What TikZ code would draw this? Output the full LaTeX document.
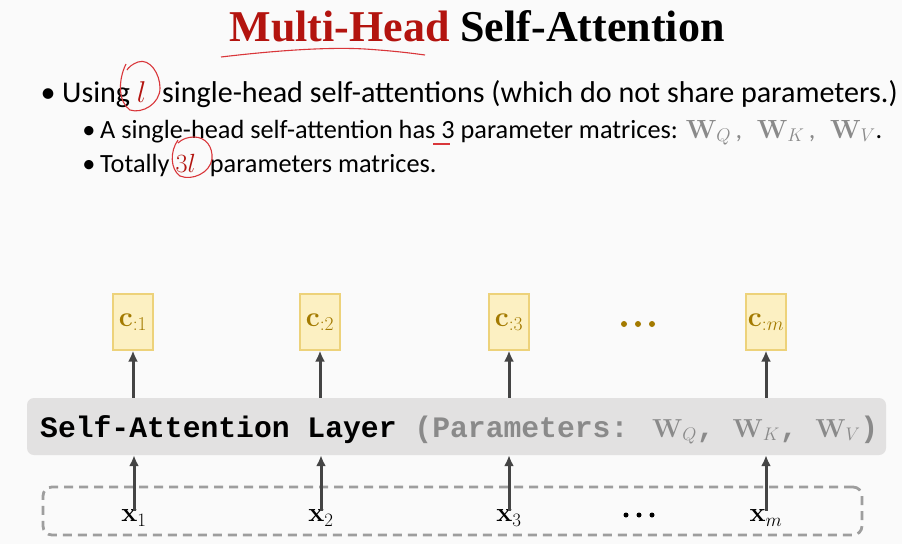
\RequirePackage{fix-cm}
\documentclass[tikz,border=0pt]{standalone}
\usepackage[no-math]{fontspec}
\setmainfont{Carlito}
\newfontfamily\titlefont{Liberation Serif}
\newfontfamily\monofont{Liberation Mono}
\usetikzlibrary{arrows.meta}
\definecolor{titlered}{HTML}{B3140F}
\definecolor{penred}{HTML}{D9363A}
\definecolor{wgray}{HTML}{8A8A8A}
\definecolor{cfill}{HTML}{FCF0C2}
\definecolor{cdraw}{HTML}{EDD27A}
\definecolor{ctext}{HTML}{A37A00}
\definecolor{layerfill}{HTML}{E2E1E1}
\definecolor{arrgray}{HTML}{444444}
\definecolor{dashgray}{HTML}{9E9E9E}
\definecolor{bg}{HTML}{FAFAFA}
\newcommand{\wmath}[1]{{\fontsize{26}{28}\selectfont$\mathbf{W}_{#1}$}}
\tikzset{
  cbox/.style={draw=cdraw, fill=cfill, line width=1.2pt, minimum width=40pt, minimum height=56pt, inner sep=0pt, text=ctext, font=\fontsize{28}{30}\selectfont},
  layerbox/.style={fill=layerfill, rounded corners=7pt, minimum width=859pt, minimum height=57pt, inner sep=0pt},
  inbox/.style={draw=dashgray, dash pattern=on 9pt off 6pt, line width=2.8pt, rounded corners=9pt, minimum width=819pt, minimum height=48pt, inner sep=0pt},
  xlab/.style={font=\fontsize{27}{30}\selectfont, inner sep=1pt},
  arr/.style={draw=arrgray, line width=3pt, -{Latex[length=11pt,width=10pt]}},
  pen/.style={draw=penred, line width=1.1pt},
  bul/.style={anchor=base, inner sep=0pt},
  line1/.style={anchor=base west, inner sep=0pt, font=\fontsize{30.1}{34}\selectfont},
  line2/.style={anchor=base west, inner sep=0pt, font=\fontsize{26.3}{30}\selectfont},
  dotc/.style={circle, inner sep=0pt, minimum size=#1},
}
\begin{document}
\begin{tikzpicture}[x=1pt,y=-1pt]
\fill[bg] (0,0) rectangle (902,544);
\useasboundingbox (0,0) rectangle (902,544);

% title
\node[inner sep=0pt] (title) at (477,26) {\titlefont\bfseries\fontsize{44}{48}\selectfont\textcolor{titlered}{Multi-Head} Self-Attention};
\draw[pen] (221,57) .. controls (280,50) and (330,47) .. (365,49) .. controls (395,51) and (410,53) .. (425,55);

% bullets
\node[bul, font=\fontsize{30.1}{34}\selectfont] (bu1) at (48,102) {\textbullet};
\node[line1] (t1) at (62,102) {Using \textcolor{titlered}{$l$}\hspace{9pt} single-head self-attentions (which do not share parameters.)};
\draw[pen] (126,64) .. controls (118,80) and (118,102) .. (130,110) .. controls (142,114) and (160,104) .. (160,88) .. controls (160,74) and (150,58) .. (138,62) .. controls (132,64) and (128,68) .. (127,70);

\node[bul, font=\fontsize{26.3}{30}\selectfont] (bu2) at (89,138) {\textbullet};
\node[line2] (t2) at (100,138) {A single-head self-attention has 3 parameter matrices: \textcolor{wgray}{$\mathbf{W}_Q$\,,\;\;$\mathbf{W}_K$\,,\;\;$\mathbf{W}_V$}.};
\draw[pen] (433,144) -- (450,144);

\node[bul, font=\fontsize{26.3}{30}\selectfont] (bu3) at (89,172) {\textbullet};
\node[line2] (t3) at (100,172) {Totally \textcolor{titlered}{$3l$}\hspace{14pt}parameters matrices.};
\draw[pen] (178,140) .. controls (170,151) and (170,169) .. (180,176) .. controls (192,181) and (210,173) .. (212,159) .. controls (213,147) and (206,137) .. (194,137) .. controls (188,137) and (182,139) .. (178,143);

% output boxes
\node[cbox] (c1) at (133,322) {$\mathbf{c}_{:1}$};
\node[cbox] (c2) at (320,322) {$\mathbf{c}_{:2}$};
\node[cbox] (c3) at (509,322) {$\mathbf{c}_{:3}$};
\node[cbox] (cm) at (766,322) {$\mathbf{c}_{:m}$};
\node[dotc=6pt, fill=ctext] (cd1) at (624,324) {};
\node[dotc=6pt, fill=ctext] (cd2) at (638,324) {};
\node[dotc=6pt, fill=ctext] (cd3) at (652,324) {};

% layer
\node[layerbox] (layer) at (456.5,426.5) {};
\node[anchor=base west, inner sep=0pt, font=\monofont\bfseries\fontsize{29.7}{32}\selectfont] (ltext) at (40,437) {Self-Attention Layer \textcolor{wgray}{(Parameters: \wmath{Q}, \wmath{K}, \wmath{V})}};

% input
\node[inbox] (inp) at (452.5,511) {};
\node[xlab] (x1) at (134,518) {$\mathbf{x}_1$};
\node[xlab] (x2) at (321,518) {$\mathbf{x}_2$};
\node[xlab] (x3) at (509,518) {$\mathbf{x}_3$};
\node[xlab] (xm) at (766,518) {$\mathbf{x}_m$};
\node[dotc=5pt, fill=black] (xd1) at (626,515) {};
\node[dotc=5pt, fill=black] (xd2) at (639,515) {};
\node[dotc=5pt, fill=black] (xd3) at (652,515) {};

% arrows
\foreach \n/\c in {x1/c1,x2/c2,x3/c3,xm/cm}{
  \draw[arr] ([yshift=-2pt]\n.north) -- (\n.north |- layer.south);
  \draw[arr] (\c.south |- layer.north) -- (\c.south);
}
\end{tikzpicture}
\end{document}
